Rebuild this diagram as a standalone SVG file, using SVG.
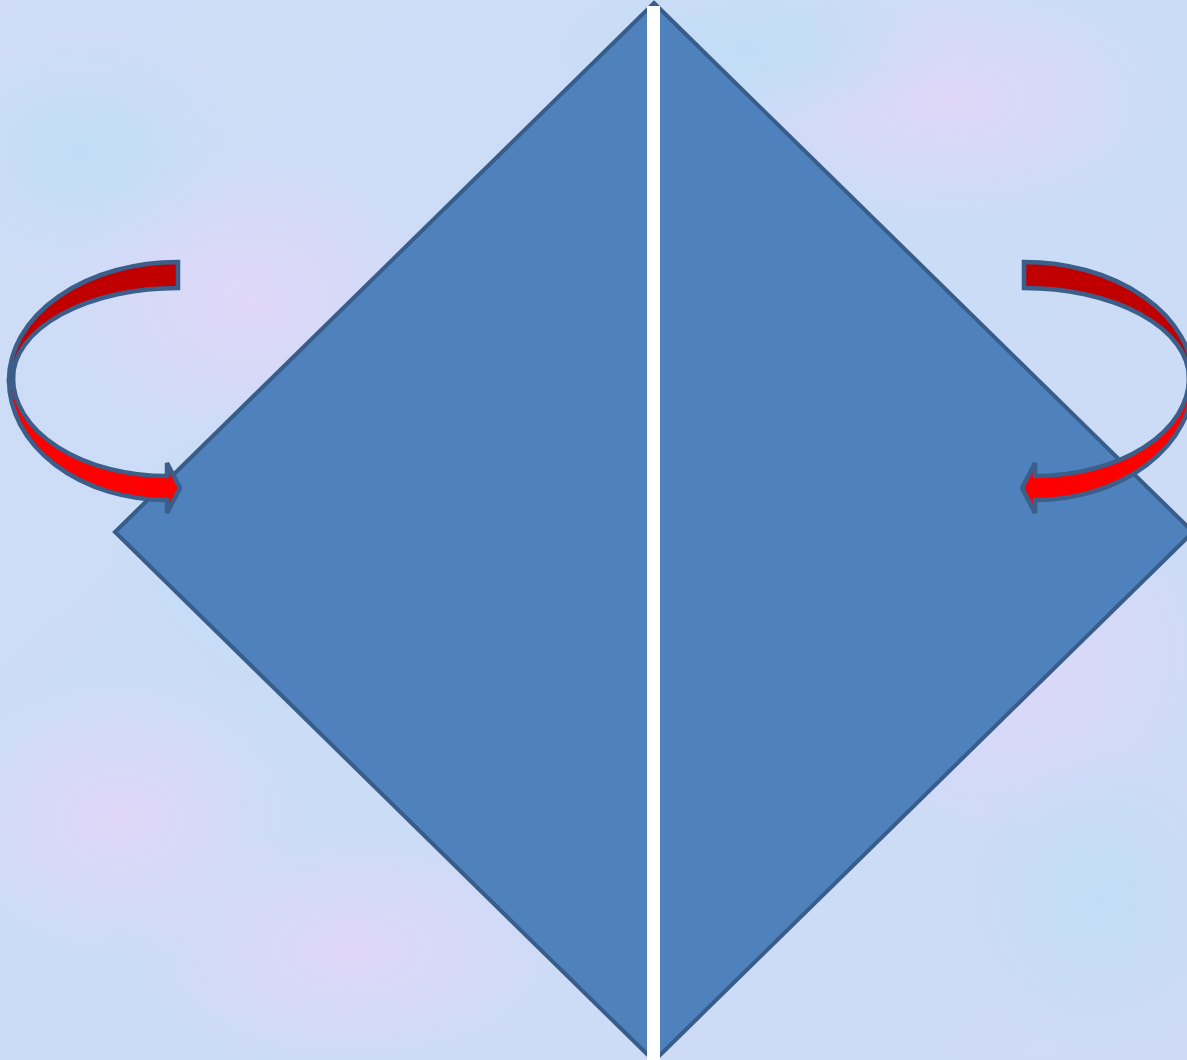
<svg xmlns="http://www.w3.org/2000/svg" width="1187" height="1060" viewBox="0 0 1187 1060">
<defs>
<linearGradient id="bg" x1="0" y1="0" x2="1" y2="1">
<stop offset="0" stop-color="#D0DCF7"/>
<stop offset="0.5" stop-color="#CADCF6"/>
<stop offset="1" stop-color="#CFDAF7"/>
</linearGradient>
<radialGradient id="pink" cx="0.5" cy="0.5" r="0.5">
<stop offset="0" stop-color="#E2D6F9" stop-opacity="0.9"/>
<stop offset="1" stop-color="#E2D6F9" stop-opacity="0"/>
</radialGradient>
<radialGradient id="cyan" cx="0.5" cy="0.5" r="0.5">
<stop offset="0" stop-color="#BFDDF6" stop-opacity="0.9"/>
<stop offset="1" stop-color="#BFDDF6" stop-opacity="0"/>
</radialGradient>
<g id="arrow">
<path class="back" d="M178,262 A169,118 0 0 0 9,380 L13,378 A165,90 0 0 1 178,288 Z"/>
<path class="front" d="M9,380 A158,120 0 0 0 167,500 L167,513 L180,488 L167,463 L167,476 A154,98 0 0 1 13,378 Z"/>
</g>
</defs>
<style>
.shape{fill:#4F81BD;stroke:#385D8A;stroke-width:4;stroke-linejoin:miter}
.back{fill:#C00000;stroke:#3B5E8A;stroke-width:4.5;stroke-linejoin:miter}
.front{fill:#FF0000;stroke:#3B5E8A;stroke-width:4.5;stroke-linejoin:miter}
</style>
<g id="background">
<rect width="1187" height="1060" fill="url(#bg)"/>
<ellipse cx="250" cy="300" rx="200" ry="150" fill="url(#pink)"/>
<ellipse cx="120" cy="820" rx="180" ry="140" fill="url(#pink)"/>
<ellipse cx="300" cy="560" rx="200" ry="160" fill="url(#cyan)"/>
<ellipse cx="950" cy="100" rx="220" ry="120" fill="url(#pink)"/>
<ellipse cx="1000" cy="650" rx="200" ry="180" fill="url(#pink)"/>
<ellipse cx="750" cy="50" rx="200" ry="80" fill="url(#cyan)"/>
<ellipse cx="1100" cy="900" rx="150" ry="150" fill="url(#cyan)"/>
<ellipse cx="350" cy="950" rx="220" ry="120" fill="url(#pink)"/>
<ellipse cx="80" cy="150" rx="160" ry="120" fill="url(#cyan)"/>
</g>
<g id="diamond">
<polygon class="shape" points="654,3 1193,532 654,1061 115,532"/>
</g>
<g id="fold-line">
<rect x="647" y="6" width="13" height="1054" fill="#FFFFFF"/>
</g>
<g id="connectors">
<g id="arrow-left"><use href="#arrow"/></g>
<g id="arrow-right"><use href="#arrow" transform="translate(1202,0) scale(-1,1)"/></g>
</g>
</svg>
